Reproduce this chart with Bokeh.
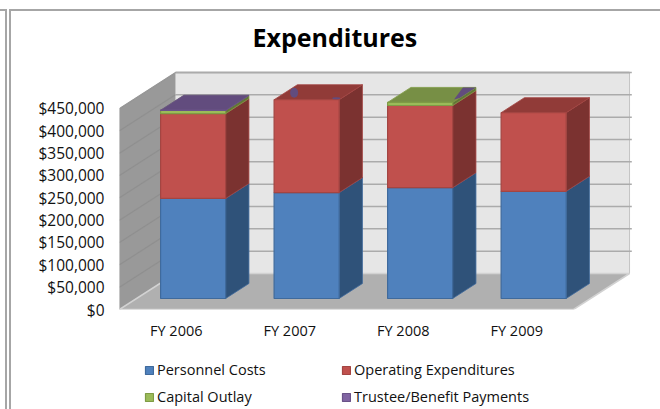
from bokeh.plotting import figure
from bokeh.layouts import column
from bokeh.models import (FixedTicker, Legend, LegendItem, NumeralTickFormatter, Title)
from bokeh.embed import file_html
from bokeh.resources import INLINE

TITLE = "Expenditures"
categories = ["FY 2006", "FY 2007", "FY 2008", "FY 2009"]
personnel = [224000, 237000, 248000, 240000]
operating = [190000, 208000, 184000, 176000]
capital = [7000, 0, 7000, 0]
trustee = [500, 0, 0, 0]
y_ticks = [0, 50000, 100000, 150000, 200000, 250000, 300000, 350000, 400000, 450000]

series = [
    ("Personnel Costs", personnel, "#4F81BD", "#2F5279", "#3E6FA8", "#3F6A9C"),
    ("Operating Expenditures", operating, "#C0504D", "#7B3230", "#913B38", "#A34542"),
    ("Capital Outlay", capital, "#9BBB59", "#617538", "#778F45", "#7F9C45"),
    ("Trustee/Benefit Payments", trustee, "#8064A2", "#4F3E65", "#624C7E", "#6A5288"),
]

# projection: u in category units, v in dollars, d = depth fraction (0 front, 1 back)
X_PER_DEPTH = 0.4934
Y_PER_DEPTH = 80600
D0, D1 = 0.306, 0.722
BAR_L, BAR_W = 0.211, 0.573


def px(u, d):
    return u + d * X_PER_DEPTH


def py(v, d):
    return v + d * Y_PER_DEPTH


p = figure(width=660, height=348, output_backend="svg", toolbar_location=None,
           x_range=(0, 4.59), y_range=(0, 544000),
           min_border_left=119, min_border_right=20, min_border_top=66, min_border_bottom=39)
p.outline_line_color = None
p.grid.visible = False
p.background_fill_color = "white"
p.border_fill_alpha = 0
# the chart-area frame around the picture
line = "linear-gradient(#A6A6A6,#A6A6A6)"
p.styles = {
    "background-color": "white",
    "background-image": ",".join([line] * 4),
    "background-repeat": "no-repeat",
    "background-size": "2px 100%, 2px 100%, 100% 2px, 6px 2px",
    "background-position": "5px 9px, 9px 9px, 9px 9px, 0px 9px",
}

top_val = y_ticks[-1]
n = len(categories)
# left wall, back wall, floor
p.patch([px(0, 0), px(0, 1), px(0, 1), px(0, 0)], [py(0, 0), py(0, 1), py(top_val, 1), py(top_val, 0)],
        fill_color="#999999", line_color="#A6A6A6", line_width=1)
p.patch([px(0, 1), px(n, 1), px(n, 1), px(0, 1)], [py(0, 1), py(0, 1), py(top_val, 1), py(top_val, 1)],
        fill_color="#E6E6E6", line_color="#C4C4C4", line_width=1)
p.line([px(0, 1), px(n, 1)], [py(top_val, 1)] * 2, line_color="#8C8C8C", line_width=1.5)
# gridlines
p.multi_line([[px(0, 1), px(n, 1) + 0.02] for v in y_ticks[1:]], [[py(v, 1), py(v, 1)] for v in y_ticks[1:]],
             line_color="#ABABAB", line_width=1.5)
p.multi_line([[px(0, 0), px(0, 1)] for v in y_ticks[1:]], [[py(v, 0), py(v, 1)] for v in y_ticks[1:]],
             line_color="#858585", line_width=1.2, line_alpha=0.5)
p.patch([px(0, 0), px(n, 0), px(n, 1), px(0, 1)], [py(0, 0), py(0, 0), py(0, 1), py(0, 1)],
        fill_color="#B0B0B0", line_color="#D2D2D2", line_width=1.5)

# legend panel under the chart
q = figure(width=660, height=61, output_backend="svg", toolbar_location=None,
           x_range=(0, 1), y_range=(0, 1), x_axis_location=None, y_axis_location=None,
           min_border=0)
q.outline_line_color = None
q.grid.visible = False
q.border_fill_alpha = 0
q.background_fill_alpha = 0
q.styles = {
    "background-image": ",".join([line] * 2),
    "background-repeat": "no-repeat",
    "background-size": "2px 100%, 2px 100%",
    "background-position": "5px 0px, 9px 0px",
}

# bars
items = {}
base = [0] * n
for name, vals, front_c, side_c, top_c, edge_c in series:
    fx, fy, sx, sy, tx, ty = [], [], [], [], [], []
    for i in range(n):
        lo, hi = base[i], base[i] + vals[i]
        base[i] = hi
        if vals[i] == 0:
            continue
        L, R = i + BAR_L, i + BAR_L + BAR_W
        fx.append([px(L, D0), px(R, D0), px(R, D0), px(L, D0)])
        fy.append([py(lo, D0), py(lo, D0), py(hi, D0), py(hi, D0)])
        sx.append([px(R, D0), px(R, D1), px(R, D1), px(R, D0)])
        sy.append([py(lo, D0), py(lo, D1), py(hi, D1), py(hi, D0)])
        tx.append([px(L, D0), px(R, D0), px(R, D1), px(L, D1)])
        ty.append([py(hi, D0), py(hi, D0), py(hi, D1), py(hi, D1)])
    p.patches(sx, sy, fill_color=side_c, line_color=edge_c, line_width=0.8)
    p.patches(tx, ty, fill_color=top_c, line_color=edge_c, line_width=0.8)
    p.patches(fx, fy, fill_color=front_c, line_color=edge_c, line_width=1.2)
    # same polygons, outside the legend panel's range: only the legend swatch shows
    r = q.patches(fx, fy, fill_color=front_c, line_color=edge_c, line_width=1.2)
    items[name] = LegendItem(label=name, renderers=[r])

# small artefacts of the purple series showing through the top faces
purple = series[3][4]
top07 = personnel[1] + operating[1]
top08 = personnel[2] + operating[2] + capital[2]
spot_f = [0.14, 0.92]
spot_g = [0.47, 0.1]
p.ellipse([px(1 + BAR_L + BAR_W * f, D0 + (D1 - D0) * g) for f, g in zip(spot_f, spot_g)],
          [py(top07, D0 + (D1 - D0) * g) for g in spot_g], width=[8, 8], height=[10, 2],
          width_units="screen", height_units="screen", fill_color=purple, line_color=None)
corner_f = [0.8, 1.0, 1.0, 0.95]
corner_g = [1.0, 1.0, 0.3, 0.2]
p.patch([px(2 + BAR_L + BAR_W * f, D0 + (D1 - D0) * g) for f, g in zip(corner_f, corner_g)],
        [py(top08, D0 + (D1 - D0) * g) for g in corner_g], fill_color=purple, line_color=None)

# axes
ax = p.xaxis[0]
ax.ticker = FixedTicker(ticks=[i + 0.5 for i in range(n)])
ax.major_label_overrides = {i + 0.5: c for i, c in enumerate(categories)}
ay = p.yaxis[0]
ay.ticker = FixedTicker(ticks=y_ticks)
ay.formatter = NumeralTickFormatter(format="$0,0")
for a in (ax, ay):
    a.axis_line_color = None
    a.major_tick_line_color = None
    a.minor_tick_line_color = None
    a.major_label_text_font = "Open Sans"
    a.major_label_text_color = "#111111"
ay.major_label_text_font_size = "15.5px"
ax.major_label_text_font_size = "14.5px"
ay.major_label_standoff = 9
ax.major_label_standoff = 5

# title
p.add_layout(Title(text=TITLE, align="left", offset=133, standoff=26, text_font="Open Sans",
                   text_font_style="bold", text_font_size="25px", text_color="#000000"), "above")

# legend (filled column by column)
legend_order = ["Personnel Costs", "Capital Outlay", "Operating Expenditures", "Trustee/Benefit Payments"]
legend = Legend(items=[items[k] for k in legend_order], ncols=2, location=(25, 3), padding=0, margin=0, spacing=8,
                glyph_width=10, glyph_height=10, label_standoff=3, label_width=176,
                label_text_font="Open Sans", label_text_font_size="14.5px", label_text_color="#111111",
                border_line_color=None, background_fill_alpha=0)
q.add_layout(legend, "center")

page = column(p, q, spacing=0)
open("out.html", "w").write(file_html(page, INLINE))
